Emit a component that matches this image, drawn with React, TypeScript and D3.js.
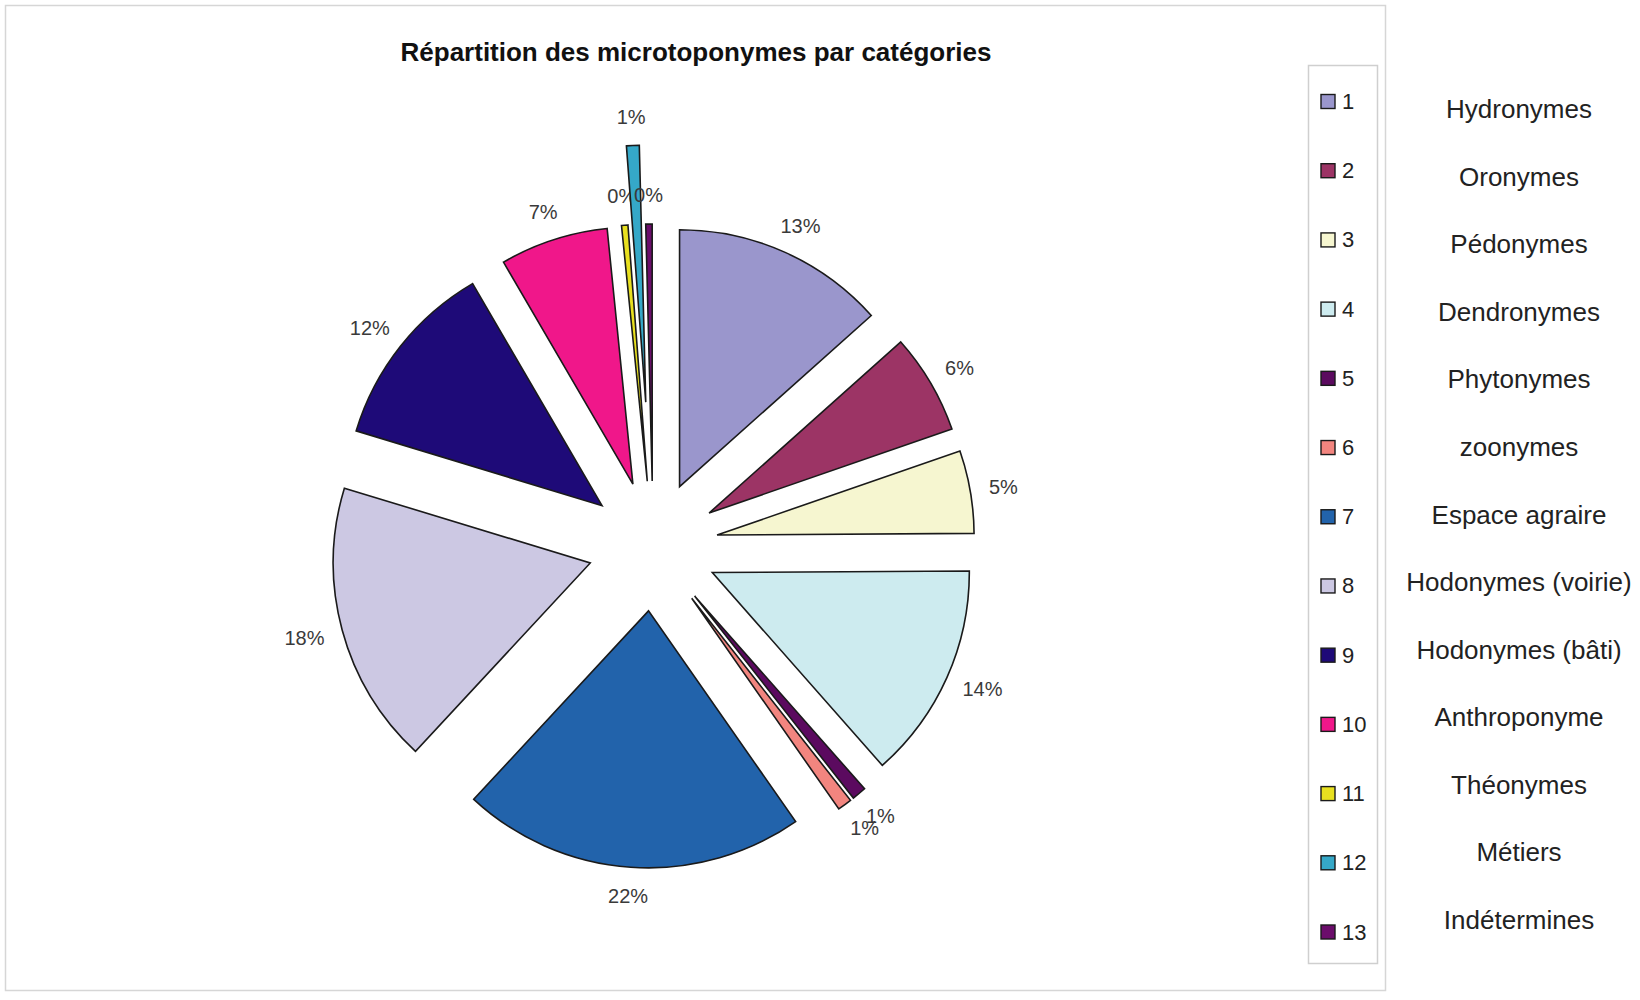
import React from "react";
import * as d3 from "d3";

const TITLE = "Répartition des microtoponymes par catégories";
const categories = ["1", "2", "3", "4", "5", "6", "7", "8", "9", "10", "11", "12", "13"];
const categoryNames = [
  "Hydronymes",
  "Oronymes",
  "Pédonymes",
  "Dendronymes",
  "Phytonymes",
  "zoonymes",
  "Espace agraire",
  "Hodonymes (voirie)",
  "Hodonymes (bâti)",
  "Anthroponyme",
  "Théonymes",
  "Métiers",
  "Indétermines",
];
// share of each category, in percent
const values = [13.4, 6.3, 5.2, 13.6, 0.9, 0.9, 21.6, 17.8, 11.9, 6.8, 0.4, 0.8, 0.4];
const colors = [
  "#9a96cc",
  "#9c3465",
  "#f6f6d0",
  "#cdebef",
  "#5b0a5f",
  "#f2857f",
  "#2263ab",
  "#ccc8e3",
  "#1e0a78",
  "#f0178a",
  "#e8e020",
  "#35a8c8",
  "#6b0d6b",
];

const W = 1640;
const H = 1000;
const FONT = "'Liberation Sans', Arial, Helvetica, sans-serif";

export default function App() {
  const cx = 653;
  const cy = 546;
  const R = 257;
  const baseExplode = 65;
  const farExplode = 144; // the "Métiers" slice is pulled out further
  const labelSize = 20;
  const labelGap = 19;

  const pie = d3
    .pie<number>()
    .sort(null)
    .value((d) => d)
    .startAngle(0)
    .endAngle(2 * Math.PI);
  const arcs = pie(values);
  const arc = d3.arc<d3.PieArcDatum<number>>().innerRadius(0).outerRadius(R);
  const total = d3.sum(values);

  const legendY = d3.scaleLinear().domain([0, categories.length - 1]).range([101.5, 932]);
  const nameY = d3.scaleLinear().domain([0, categoryNames.length - 1]).range([109, 920]);

  return (
    <svg
      width={W}
      height={H}
      viewBox={`0 0 ${W} ${H}`}
      style={{ position: "absolute", left: 0, top: 0, background: "#fff" }}
      fontFamily={FONT}
    >
      <rect x={0} y={0} width={W} height={H} fill="#fff" />
      {/* chart area frame */}
      <rect x={5.5} y={5.5} width={1380} height={985} fill="#fff" stroke="#d6d6d6" strokeWidth={1.5} />

      <text x={696} y={61} textAnchor="middle" fontSize={26} fontWeight="bold" fill="#111">
        {TITLE}
      </text>

      {/* pie slices */}
      {arcs.map((a, i) => {
        const mid = (a.startAngle + a.endAngle) / 2;
        const d = i === 11 ? farExplode : baseExplode;
        const ox = cx + d * Math.sin(mid);
        const oy = cy - d * Math.cos(mid);
        const pct = Math.round((a.data / total) * 100) + "%";
        const tw = labelSize * (0.556 * (pct.length - 1) + 0.889);
        const th = labelSize;
        const lr = d + R + labelGap;
        const lx = cx + lr * Math.sin(mid) + (tw / 2) * Math.sin(mid);
        const ly = cy - lr * Math.cos(mid) - (th / 2) * Math.cos(mid);
        return (
          <g key={i}>
            <path
              d={arc(a) || ""}
              transform={`translate(${ox},${oy})`}
              fill={colors[i]}
              stroke="#1a1a1a"
              strokeWidth={1.6}
              strokeLinejoin="miter"
            />
            <text
              x={lx}
              y={ly}
              textAnchor="middle"
              dominantBaseline="central"
              fontSize={labelSize}
              fill="#3a3a3a"
            >
              {pct}
            </text>
          </g>
        );
      })}

      {/* legend */}
      <rect x={1308.5} y={65.5} width={69} height={898} fill="#fff" stroke="#cfcfcf" strokeWidth={1.5} />
      {categories.map((c, i) => (
        <g key={c}>
          <rect
            x={1321}
            y={legendY(i) - 7}
            width={14}
            height={14}
            fill={colors[i]}
            stroke="#1a1a1a"
            strokeWidth={1.4}
          />
          <text x={1342} y={legendY(i)} dominantBaseline="central" fontSize={22} fill="#222">
            {c}
          </text>
        </g>
      ))}

      {/* category names */}
      {categoryNames.map((n, i) => (
        <text
          key={n}
          x={1519}
          y={nameY(i)}
          textAnchor="middle"
          dominantBaseline="central"
          fontSize={26}
          fill="#222"
        >
          {n}
        </text>
      ))}
    </svg>
  );
}
